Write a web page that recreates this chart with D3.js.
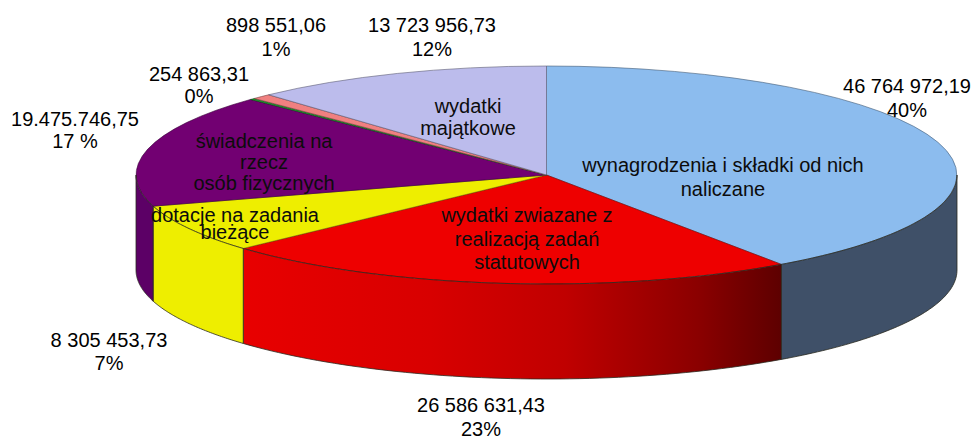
<!DOCTYPE html>
<html>
<head>
    <meta charset="utf-8">
    <title>Wydatki</title>
    <style>
        html, body { margin: 0; padding: 0; background: #fff; }
        svg { display: block; }
        text { font-family: "Liberation Sans", Arial, sans-serif; font-size: 20px; fill: #000; }
        .inner { fill: #0c0c0c; }
    </style>
</head>
<body>
    <script src="https://d3js.org/d3.v7.min.js"></script>
    <script>
        // data
        const categories = ["wynagrodzenia i składki od nich naliczane", "wydatki zwiazane z realizacją zadań statutowych", "dotacje na zadania bieżące", "świadczenia na rzecz osób fizycznych", "inne 1", "inne 2", "wydatki majątkowe"];
        const values = [46764972.19, 26586631.43, 8305453.73, 19475746.75, 254863.31, 898551.06, 13723956.73];
        const valueLabels = ["46 764 972,19", "26 586 631,43", "8 305 453,73", "19.475.746,75", "254 863,31", "898 551,06", "13 723 956,73"];
        const percentLabels = ["40%", "23%", "7%", "17 %", "0%", "1%", "12%"];
        const innerLabels = [
            ["wynagrodzenia i składki od nich", "naliczane"],
            ["wydatki zwiazane z", "realizacją zadań", "statutowych"],
            ["dotacje na zadania", "bieżące"],
            ["świadczenia na", "rzecz", "osób fizycznych"],
            [],
            [],
            ["wydatki", "majątkowe"]
        ];

        // colors
        const topColors = ["#8cbcee", "#ee0000", "#eeee00", "#720072", "#1a9a2a", "#f08080", "#bcbcec"];
        const sideColors = ["#3f5068", "url(#redSide)", "#eeee00", "#5c0066", "#1a9a2a", "#f08080", "#bcbcec"];

        // layout
        const width = 974, height = 440;
        const cx = 546.5, cy = 175, rx = 410.5, ry = 109, depth = 95;

        // label layout, [x, first baseline y, line height]
        const outerPos = [[907, 93, 24], [481, 412, 24], [109, 347, 23], [75, 126, 22], [199, 81, 22], [276, 32, 24], [432, 32, 24]];
        const innerPos = [[723, 172, 24], [527, 222, 23.5], [235, 222, 17], [264, 148, 21], null, null, [468, 113, 22]];

        const svg = d3.select("body").append("svg")
            .attr("width", width)
            .attr("height", height);

        const grad = svg.append("defs").append("linearGradient")
            .attr("id", "redSide")
            .attr("gradientUnits", "userSpaceOnUse")
            .attr("x1", 243).attr("x2", 780).attr("y1", 0).attr("y2", 0);
        [[0, "#e80000"], [0.35, "#d80000"], [0.6, "#c00000"], [0.85, "#8a0000"], [1, "#5e0000"]].forEach(s => {
            grad.append("stop").attr("offset", s[0]).attr("stop-color", s[1]);
        });

        const arcs = d3.pie().sort(null)(values);

        const px = a => cx + rx * Math.sin(a);
        const py = a => cy - ry * Math.cos(a);

        function sidePath(a0, a1) {
            // front wall only exists between 90 and 270 degrees
            const s = Math.max(a0, Math.PI / 2), e = Math.min(a1, 3 * Math.PI / 2);
            if (e <= s) return null;
            const steps = d3.range(0, 61).map(i => s + (e - s) * i / 60);
            const upper = steps.map(a => [px(a), py(a)]);
            const lower = steps.slice().reverse().map(a => [px(a), py(a) + depth]);
            return d3.line()(upper.concat(lower)) + "Z";
        }

        const groupTops = svg.append("g").attr("class", "groupTops")
            .attr("transform", `translate(${cx}, ${cy}) scale(${rx}, ${ry})`);
        const groupSides = svg.append("g").attr("class", "groupSides");
        const groupLabels = svg.append("g").attr("class", "groupLabels");

        // draw
        groupTops.selectAll("path")
            .data(arcs)
            .join("path")
            .attr("d", d3.arc().innerRadius(0).outerRadius(1))
            .attr("fill", d => topColors[d.index])
            .attr("stroke", d => d3.color(topColors[d.index]).darker(2))
            .attr("stroke-width", 0.6)
            .attr("vector-effect", "non-scaling-stroke");

        groupSides.selectAll("path")
            .data(arcs.filter(d => sidePath(d.startAngle, d.endAngle)))
            .join("path")
            .attr("d", d => sidePath(d.startAngle, d.endAngle))
            .attr("fill", d => sideColors[d.index])
            .attr("stroke", "#2a2a20")
            .attr("stroke-width", 0.8);

        valueLabels.forEach((label, i) => {
            const t = groupLabels.append("text")
                .attr("text-anchor", "middle")
                .attr("x", outerPos[i][0])
                .attr("y", outerPos[i][1]);
            t.append("tspan").attr("x", outerPos[i][0]).text(label);
            t.append("tspan").attr("x", outerPos[i][0]).attr("dy", outerPos[i][2]).text(percentLabels[i]);
        });

        innerLabels.forEach((lines, i) => {
            if (!innerPos[i]) return;
            lines.forEach((line, j) => {
                groupLabels.append("text")
                    .attr("class", "inner")
                    .attr("text-anchor", "middle")
                    .attr("x", innerPos[i][0])
                    .attr("y", innerPos[i][1] + j * innerPos[i][2])
                    .text(line);
            });
        });
    </script>
</body>
</html>
